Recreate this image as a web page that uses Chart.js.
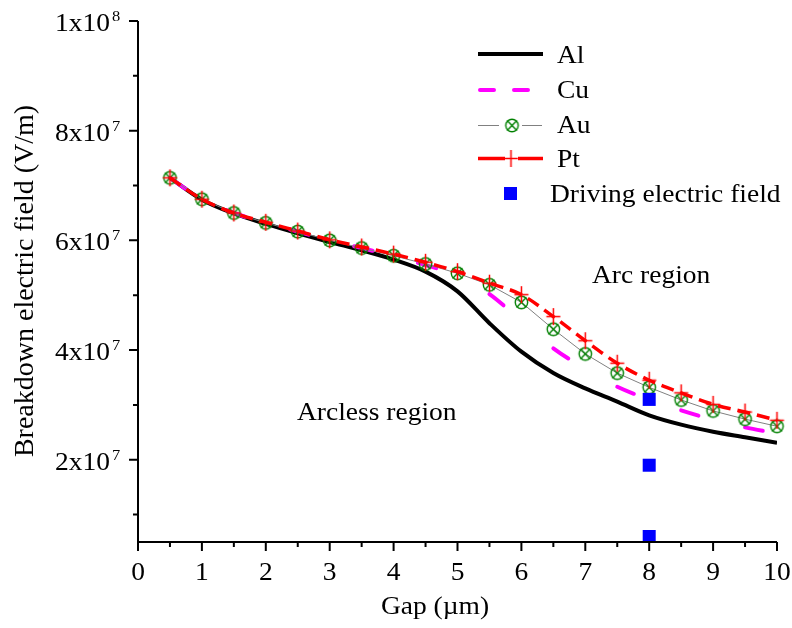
<!DOCTYPE html>
<html>
<head>
<meta charset="utf-8">
<script src="https://cdn.jsdelivr.net/npm/chart.js@4.4.1/dist/chart.umd.min.js"></script>
<style>
  html, body { margin: 0; padding: 0; background: #ffffff; }
  #c { display: block; }
</style>
</head>
<body>
<canvas id="c" width="792" height="628"></canvas>
<script>
// Gap positions (µm)
const gap = [0.5, 1, 1.5, 2, 2.5, 3, 3.5, 4, 4.5, 5, 5.5, 6, 6.5, 7, 7.5, 8, 8.5, 9, 9.5, 10];

// Breakdown electric field (V/m) for each electrode material
const alField = [7.14e7, 6.74e7, 6.49e7, 6.30e7, 6.13e7, 5.97e7, 5.82e7, 5.65e7, 5.43e7, 5.07e7,
                 4.49e7, 3.97e7, 3.58e7, 3.30e7, 3.06e7, 2.81e7, 2.64e7, 2.51e7, 2.41e7, 2.31e7];
const cuField = [7.14e7, 6.75e7, 6.50e7, 6.32e7, 6.16e7, 6.00e7, 5.86e7, 5.71e7, 5.55e7, 5.36e7,
                 5.02e7, 4.53e7, 4.03e7, 3.66e7, 3.33e7, 3.10e7, 2.90e7, 2.73e7, 2.59e7, 2.48e7];
const auField = [7.14e7, 6.75e7, 6.50e7, 6.32e7, 6.16e7, 6.00e7, 5.86e7, 5.72e7, 5.57e7, 5.40e7,
                 5.19e7, 4.87e7, 4.38e7, 3.93e7, 3.58e7, 3.32e7, 3.09e7, 2.89e7, 2.74e7, 2.61e7];
const ptField = [7.14e7, 6.75e7, 6.50e7, 6.33e7, 6.17e7, 6.01e7, 5.88e7, 5.75e7, 5.60e7, 5.43e7,
                 5.22e7, 5.01e7, 4.61e7, 4.17e7, 3.76e7, 3.45e7, 3.22e7, 3.01e7, 2.87e7, 2.72e7];

// Driving electric field samples at an 8 µm gap
const driveGap = [8, 8, 8];
const driveField = [3.1e7, 1.9e7, 6.0e6];

// Axis ticks
const xTicks = [0, 1, 2, 3, 4, 5, 6, 7, 8, 9, 10];
const yTickMantissa = [2, 4, 6, 8, 1];
const yTickExponent = [7, 7, 7, 7, 8];
const yTickValues = [2e7, 4e7, 6e7, 8e7, 1e8];

const seriesNames = ['Al', 'Cu', 'Au', 'Pt', 'Driving electric field'];

const SERIF = '"Liberation Serif", "Times New Roman", Times, serif';
const TEXT_SX = 1.1;

const pairs = (xs, ys) => xs.map((x, i) => ({ x: x, y: ys[i] }));

// Circle-with-cross marker for Au
function auMarker() {
  const c = document.createElement('canvas');
  c.width = 17; c.height = 17;
  const g = c.getContext('2d');
  g.strokeStyle = '#008000';
  g.lineWidth = 1.4;
  g.beginPath(); g.arc(8.5, 8.5, 6.2, 0, Math.PI * 2); g.stroke();
  g.beginPath();
  g.moveTo(3.6, 3.6); g.lineTo(13.4, 13.4);
  g.moveTo(13.4, 3.6); g.lineTo(3.6, 13.4);
  g.stroke();
  return c;
}

// Plus marker for Pt
function ptMarker() {
  const c = document.createElement('canvas');
  c.width = 17; c.height = 19;
  const g = c.getContext('2d');
  g.strokeStyle = '#ff0000';
  g.lineWidth = 1.5;
  g.beginPath();
  g.moveTo(1.5, 9.5); g.lineTo(15.5, 9.5);
  g.moveTo(8.5, 1); g.lineTo(8.5, 18);
  g.stroke();
  return c;
}

const AU_IMG = auMarker();
const PT_IMG = ptMarker();

// Cu dashes: a regular dash pattern on the upper branch, then one dash at the
// start of every half-integer interval once the curve separates from the others.
const CU_COLOR = '#ff00ff';
const CU_SPLIT = 4.75;
function cuSegmentVisible(ctx) {
  const x0 = ctx.p0.parsed.x;
  if (x0 < CU_SPLIT) return true;
  return Math.round(x0 * 2) % 2 === 1;
}

function drawText(ctx, s, x, y, size, align, sx) {
  ctx.save();
  ctx.font = size + 'px ' + SERIF;
  ctx.textAlign = align;
  ctx.textBaseline = 'alphabetic';
  ctx.fillStyle = '#000000';
  ctx.translate(x, y);
  ctx.scale(sx, 1);
  ctx.fillText(s, 0, 0);
  ctx.restore();
}

// Axes, ticks, labels, legend and region notes
const decor = {
  id: 'decor',
  afterDraw(chart) {
    const ctx = chart.ctx;
    const xs = chart.scales.x, ys = chart.scales.y;
    const a = chart.chartArea;
    ctx.save();
    ctx.strokeStyle = '#000000';
    ctx.lineWidth = 2;
    ctx.lineCap = 'butt';

    // axis lines
    ctx.beginPath();
    ctx.moveTo(a.left, a.top);
    ctx.lineTo(a.left, a.bottom);
    ctx.lineTo(a.right, a.bottom);
    ctx.stroke();

    // x ticks (major at integers, minor at halves)
    ctx.beginPath();
    for (let i = 0; i <= 20; i++) {
      const px = xs.getPixelForValue(i / 2);
      const len = (i % 2 === 0) ? 9 : 5;
      ctx.moveTo(px, a.bottom);
      ctx.lineTo(px, a.bottom + len);
    }
    // y ticks (major every 2e7, minor every 1e7)
    for (let i = 1; i <= 10; i++) {
      const py = ys.getPixelForValue(i * 1e7);
      const len = (i % 2 === 0) ? 9 : 5;
      ctx.moveTo(a.left, py);
      ctx.lineTo(a.left - len, py);
    }
    ctx.stroke();

    // x tick labels
    xTicks.forEach(v => {
      drawText(ctx, String(v), xs.getPixelForValue(v), 580, 25, 'center', TEXT_SX);
    });

    // y tick labels with superscript exponents
    yTickValues.forEach((v, i) => {
      const py = ys.getPixelForValue(v);
      drawText(ctx, yTickMantissa[i] + 'x10', 110, py + 10, 25, 'right', TEXT_SX);
      drawText(ctx, String(yTickExponent[i]), 112, py, 15, 'left', TEXT_SX);
    });

    // axis titles
    drawText(ctx, 'Gap (\u00b5m)', 435, 614, 25, 'center', TEXT_SX);
    ctx.save();
    ctx.translate(33, 281);
    ctx.rotate(-Math.PI / 2);
    ctx.font = '28px ' + SERIF;
    ctx.textAlign = 'center';
    ctx.textBaseline = 'alphabetic';
    ctx.fillStyle = '#000000';
    ctx.fillText('Breakdown electric field (V/m)', 0, 0);
    ctx.restore();

    // region notes
    drawText(ctx, 'Arc region', 592, 283, 25, 'left', TEXT_SX);
    drawText(ctx, 'Arcless region', 297, 420, 25, 'left', TEXT_SX);

    // legend
    ctx.lineCap = 'butt';
    ctx.strokeStyle = '#000000';
    ctx.lineWidth = 4;
    ctx.beginPath(); ctx.moveTo(478, 54); ctx.lineTo(543, 54); ctx.stroke();

    ctx.strokeStyle = CU_COLOR;
    ctx.lineWidth = 4;
    ctx.lineCap = 'round';
    ctx.beginPath();
    ctx.moveTo(480, 90); ctx.lineTo(494, 90);
    ctx.moveTo(514, 90); ctx.lineTo(528, 90);
    ctx.stroke();
    ctx.lineCap = 'butt';

    ctx.strokeStyle = '#808080';
    ctx.lineWidth = 1;
    ctx.beginPath();
    ctx.moveTo(478, 125.5); ctx.lineTo(499, 125.5);
    ctx.moveTo(522, 125.5); ctx.lineTo(542, 125.5);
    ctx.stroke();
    ctx.drawImage(AU_IMG, 512 - 8.5, 125.5 - 8.5);

    ctx.strokeStyle = '#ff0000';
    ctx.lineWidth = 3.5;
    ctx.beginPath();
    ctx.moveTo(478, 158.5); ctx.lineTo(505, 158.5);
    ctx.moveTo(518, 158.5); ctx.lineTo(543, 158.5);
    ctx.stroke();
    ctx.drawImage(PT_IMG, 511 - 8.5, 158.5 - 9.5);

    ctx.fillStyle = '#0000ff';
    ctx.fillRect(504, 187, 13, 13);

    drawText(ctx, seriesNames[0], 557, 63, 25, 'left', TEXT_SX);
    drawText(ctx, seriesNames[1], 557, 98, 25, 'left', TEXT_SX);
    drawText(ctx, seriesNames[2], 557, 133, 25, 'left', TEXT_SX);
    drawText(ctx, seriesNames[3], 557, 167, 25, 'left', TEXT_SX);
    drawText(ctx, seriesNames[4], 550, 201.5, 25, 'left', TEXT_SX);

    ctx.restore();
  }
};

new Chart(document.getElementById('c').getContext('2d'), {
  type: 'line',
  data: {
    datasets: [
      {
        label: seriesNames[0], data: pairs(gap, alField),
        borderColor: '#000000', borderWidth: 4, pointRadius: 0,
        cubicInterpolationMode: 'monotone', fill: false, order: 5
      },
      {
        label: seriesNames[1], data: pairs(gap, cuField),
        borderColor: CU_COLOR, borderWidth: 4, borderDash: [19, 47], borderCapStyle: 'round',
        pointRadius: 0, cubicInterpolationMode: 'monotone', fill: false, order: 4,
        segment: {
          borderColor: c => cuSegmentVisible(c) ? CU_COLOR : 'rgba(0,0,0,0)',
          borderDash: c => (c.p0.parsed.x < CU_SPLIT) ? [19, 47] : [18, 1000]
        }
      },
      {
        label: seriesNames[2], data: pairs(gap, auField),
        borderColor: '#808080', borderWidth: 1, tension: 0,
        pointStyle: AU_IMG, pointRadius: 7, fill: false, order: 3, clip: false
      },
      {
        label: seriesNames[3], data: pairs(gap, ptField),
        borderColor: '#ff0000', borderWidth: 3.5, borderDash: [13, 7],
        cubicInterpolationMode: 'monotone',
        pointStyle: PT_IMG, pointRadius: 8, fill: false, order: 2, clip: false
      },
      {
        label: seriesNames[4], data: pairs(driveGap, driveField),
        showLine: false, pointStyle: 'rect', pointRadius: 9.2,
        pointBackgroundColor: '#0000ff', pointBorderWidth: 0, pointBorderColor: '#0000ff',
        order: 1, clip: false
      }
    ]
  },
  options: {
    responsive: false,
    animation: false,
    devicePixelRatio: 1,
    layout: { padding: { top: 21, right: 15, left: 0, bottom: 0 } },
    plugins: { legend: { display: false }, tooltip: { enabled: false } },
    scales: {
      x: {
        type: 'linear', min: 0, max: 10,
        grid: { display: false }, border: { display: false }, ticks: { display: false },
        afterFit(s) { s.height = 86; }
      },
      y: {
        type: 'linear', min: 5e6, max: 1e8,
        grid: { display: false }, border: { display: false }, ticks: { display: false },
        afterFit(s) { s.width = 138; }
      }
    }
  },
  plugins: [decor]
});
</script>
</body>
</html>
